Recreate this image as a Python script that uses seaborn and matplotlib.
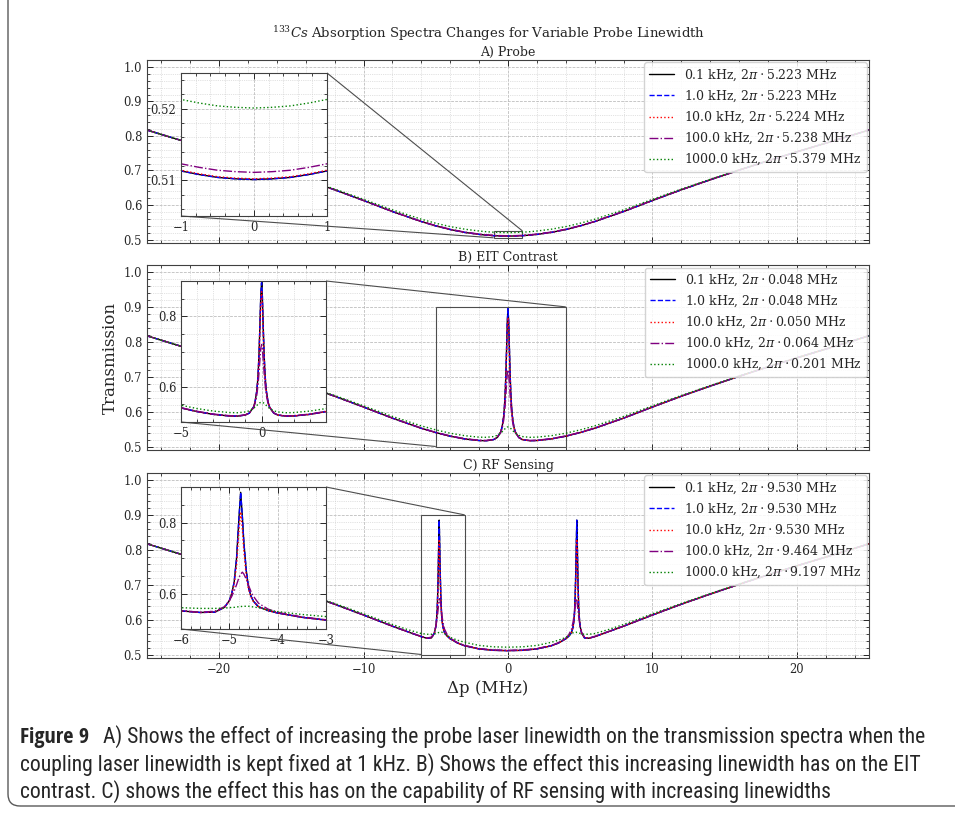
import matplotlib
matplotlib.use("Agg")
import matplotlib.pyplot as plt
import matplotlib.transforms as mtrans
from matplotlib import font_manager as fm
from matplotlib.font_manager import FontProperties
from matplotlib.patches import FancyBboxPatch
from mpl_toolkits.axes_grid1.inset_locator import mark_inset
import seaborn as sns

# ---------------- data ----------------
xa = [-25, -22, -20, -18, -16, -14, -12, -10, -8, -6, -5, -4, -3, -2, -1.5, -1, -0.75, -0.5, -0.25, 0,
      0.25, 0.5, 0.75, 1, 1.5, 2, 3, 4, 5, 6, 8, 10, 12, 14, 16, 18, 20, 22, 25]
a_black = [0.8170, 0.7790, 0.7540, 0.7280, 0.7010, 0.6730, 0.6440, 0.6130, 0.5810, 0.5520, 0.5395, 0.5290,
           0.5207, 0.5149, 0.5128, 0.5113, 0.5108, 0.5104, 0.5102, 0.5101,
           0.5102, 0.5104, 0.5108, 0.5113, 0.5128, 0.5149, 0.5207, 0.5290, 0.5395, 0.5520, 0.5810, 0.6130,
           0.6440, 0.6730, 0.7010, 0.7280, 0.7540, 0.7790, 0.8170]
a_blue = [0.8170, 0.7790, 0.7540, 0.7280, 0.7010, 0.6730, 0.6440, 0.6130, 0.5810, 0.5520, 0.5395, 0.5290,
          0.5207, 0.5149, 0.5128, 0.5113, 0.5108, 0.5104, 0.5102, 0.5101,
          0.5102, 0.5104, 0.5108, 0.5113, 0.5128, 0.5149, 0.5207, 0.5290, 0.5395, 0.5520, 0.5810, 0.6130,
          0.6440, 0.6730, 0.7010, 0.7280, 0.7540, 0.7790, 0.8170]
a_red = [0.8170, 0.7790, 0.7540, 0.7280, 0.7010, 0.6730, 0.6440, 0.6131, 0.5811, 0.5521, 0.5396, 0.5291,
         0.5208, 0.5150, 0.5129, 0.5114, 0.5109, 0.5105, 0.5103, 0.5102,
         0.5103, 0.5105, 0.5109, 0.5114, 0.5129, 0.5150, 0.5208, 0.5291, 0.5396, 0.5521, 0.5811, 0.6131,
         0.6440, 0.6730, 0.7010, 0.7280, 0.7540, 0.7790, 0.8170]
a_purple = [0.8171, 0.7791, 0.7541, 0.7281, 0.7011, 0.6732, 0.6443, 0.6134, 0.5815, 0.5527, 0.5403, 0.5299,
            0.5216, 0.5159, 0.5138, 0.5123, 0.5118, 0.5114, 0.5112, 0.5111,
            0.5112, 0.5114, 0.5118, 0.5123, 0.5138, 0.5159, 0.5216, 0.5299, 0.5403, 0.5527, 0.5815, 0.6134,
            0.6443, 0.6732, 0.7011, 0.7281, 0.7541, 0.7791, 0.8171]
a_green = [0.8171, 0.7792, 0.7543, 0.7285, 0.7019, 0.6744, 0.6462, 0.6165, 0.5860, 0.5588, 0.5472, 0.5375,
           0.5300, 0.5247, 0.5227, 0.5213, 0.5208, 0.5204, 0.5202, 0.5201,
           0.5202, 0.5204, 0.5208, 0.5213, 0.5227, 0.5247, 0.5300, 0.5375, 0.5472, 0.5588, 0.5860, 0.6165,
           0.6462, 0.6744, 0.7019, 0.7285, 0.7543, 0.7792, 0.8171]

xb = [-25, -22, -20, -18, -16, -14, -12, -10, -8, -6, -5, -4, -3, -2, -1.5, -1, -0.75, -0.5, -0.4, -0.3,
      -0.25, -0.2, -0.15, -0.1, -0.05, 0, 0.05, 0.1, 0.15, 0.2, 0.25, 0.3, 0.4, 0.5, 0.75, 1, 1.5, 2, 3, 4,
      5, 6, 8, 10, 12, 14, 16, 18, 20, 22, 25]
b_black = [0.817, 0.779, 0.754, 0.728, 0.701, 0.673, 0.644, 0.613, 0.5811, 0.5522, 0.5399, 0.5295, 0.5217,
           0.5171, 0.5166, 0.5198, 0.5256, 0.5422, 0.5578, 0.5873, 0.6121, 0.6489, 0.7027, 0.7768, 0.8566,
           0.895,
           0.8566, 0.7768, 0.7027, 0.6489, 0.6121, 0.5873, 0.5578, 0.5422, 0.5256, 0.5198, 0.5166, 0.5171,
           0.5217, 0.5295, 0.5399, 0.5522, 0.5811, 0.613, 0.644, 0.673, 0.701, 0.728, 0.754, 0.779, 0.817]
b_blue = [0.817, 0.779, 0.754, 0.728, 0.701, 0.673, 0.644, 0.613, 0.5811, 0.5522, 0.5399, 0.5295, 0.5217,
          0.5171, 0.5166, 0.5198, 0.5256, 0.5422, 0.5578, 0.5873, 0.6121, 0.6489, 0.7027, 0.7768, 0.8566,
          0.895,
          0.8566, 0.7768, 0.7027, 0.6489, 0.6121, 0.5873, 0.5578, 0.5422, 0.5256, 0.5198, 0.5166, 0.5171,
          0.5217, 0.5295, 0.5399, 0.5522, 0.5811, 0.613, 0.644, 0.673, 0.701, 0.728, 0.754, 0.779, 0.817]
b_red = [0.817, 0.779, 0.754, 0.728, 0.701, 0.673, 0.644, 0.613, 0.5811, 0.5522, 0.5399, 0.5295, 0.5217,
         0.5171, 0.5166, 0.520, 0.526, 0.542, 0.557, 0.586, 0.610, 0.645, 0.696, 0.764, 0.836,
         0.870,
         0.836, 0.764, 0.696, 0.645, 0.610, 0.586, 0.557, 0.542, 0.526, 0.520, 0.5166, 0.5171,
         0.5217, 0.5295, 0.5399, 0.5522, 0.5811, 0.613, 0.644, 0.673, 0.701, 0.728, 0.754, 0.779, 0.817]
b_purple = [0.8171, 0.7791, 0.7541, 0.7281, 0.7011, 0.6732, 0.6443, 0.6134, 0.5816, 0.5529, 0.5406, 0.5304,
            0.5225, 0.518, 0.5175, 0.5203, 0.526, 0.540, 0.553, 0.575, 0.593, 0.616, 0.645, 0.678, 0.708,
            0.720,
            0.708, 0.678, 0.645, 0.616, 0.593, 0.575, 0.553, 0.540, 0.526, 0.5203, 0.5175, 0.518,
            0.5225, 0.5304, 0.5406, 0.5529, 0.5816, 0.6134, 0.6443, 0.6732, 0.7011, 0.7281, 0.7541, 0.7791, 0.8171]
b_green = [0.8171, 0.7792, 0.7543, 0.7285, 0.7019, 0.6744, 0.6462, 0.6165, 0.5861, 0.5590, 0.5476, 0.5381,
           0.5310, 0.5268, 0.5263, 0.5285, 0.5319, 0.5384, 0.5424, 0.5467, 0.5490, 0.5512, 0.5532, 0.5547, 0.5557,
           0.556,
           0.5557, 0.5547, 0.5532, 0.5512, 0.5490, 0.5467, 0.5424, 0.5384, 0.5319, 0.5285, 0.5263, 0.5268,
           0.5310, 0.5381, 0.5476, 0.5590, 0.5861, 0.6165, 0.6462, 0.6744, 0.7019, 0.7285, 0.7543, 0.7792, 0.8171]

xc = [-25, -22, -20, -18, -16, -14, -12, -10, -8, -7, -6, -5.6, -5.3, -5.1, -5.0, -4.95, -4.9, -4.85, -4.8,
      -4.765, -4.73, -4.7, -4.65, -4.6, -4.55, -4.5, -4.4, -4.2, -4.0, -3.5, -3, -2, -1, 0,
      1, 2, 3, 3.5, 4.0, 4.2, 4.4, 4.5, 4.55, 4.6, 4.65, 4.7, 4.73, 4.765, 4.8, 4.85, 4.9, 4.95, 5.0, 5.1,
      5.3, 5.6, 6, 7, 8, 10, 12, 14, 16, 18, 20, 22, 25]
c_black = [0.817, 0.779, 0.754, 0.728, 0.701, 0.673, 0.644, 0.613, 0.581, 0.566, 0.551, 0.5465, 0.5475,
           0.561, 0.580, 0.600, 0.632, 0.700, 0.815, 0.885, 0.815, 0.745, 0.665, 0.615, 0.592, 0.578, 0.563,
           0.552, 0.545, 0.533, 0.525, 0.516, 0.512, 0.511,
           0.512, 0.516, 0.525, 0.533, 0.545, 0.552, 0.563, 0.578, 0.592, 0.615, 0.665, 0.745, 0.815, 0.885,
           0.815, 0.700, 0.632, 0.600, 0.580, 0.561, 0.5475, 0.5465, 0.551, 0.566, 0.581, 0.613, 0.644, 0.673,
           0.701, 0.728, 0.754, 0.779, 0.817]
c_blue = [0.817, 0.779, 0.754, 0.728, 0.701, 0.673, 0.644, 0.613, 0.581, 0.566, 0.551, 0.5465, 0.5475,
          0.561, 0.580, 0.600, 0.632, 0.700, 0.815, 0.885, 0.815, 0.745, 0.665, 0.615, 0.592, 0.578, 0.563,
          0.552, 0.545, 0.533, 0.525, 0.516, 0.512, 0.511,
          0.512, 0.516, 0.525, 0.533, 0.545, 0.552, 0.563, 0.578, 0.592, 0.615, 0.665, 0.745, 0.815, 0.885,
          0.815, 0.700, 0.632, 0.600, 0.580, 0.561, 0.5475, 0.5465, 0.551, 0.566, 0.581, 0.613, 0.644, 0.673,
          0.701, 0.728, 0.754, 0.779, 0.817]
c_red = [0.817, 0.779, 0.754, 0.728, 0.701, 0.673, 0.644, 0.613, 0.581, 0.566, 0.551, 0.5465, 0.548,
         0.561, 0.579, 0.597, 0.625, 0.680, 0.780, 0.830, 0.780, 0.720, 0.650, 0.610, 0.590, 0.577, 0.563,
         0.552, 0.545, 0.533, 0.525, 0.516, 0.512, 0.511,
         0.512, 0.516, 0.525, 0.533, 0.545, 0.552, 0.563, 0.577, 0.590, 0.610, 0.650, 0.720, 0.780, 0.830,
         0.780, 0.680, 0.625, 0.597, 0.579, 0.561, 0.548, 0.5465, 0.551, 0.566, 0.581, 0.613, 0.644, 0.673,
         0.701, 0.728, 0.754, 0.779, 0.817]
c_purple = [0.8171, 0.7791, 0.7541, 0.7281, 0.7011, 0.6732, 0.6443, 0.6134, 0.5815, 0.5665, 0.552, 0.547,
            0.550, 0.563, 0.580, 0.592, 0.607, 0.625, 0.645, 0.655, 0.660, 0.655, 0.640, 0.622, 0.605, 0.592,
            0.573, 0.556, 0.547, 0.534, 0.526, 0.517, 0.513, 0.512,
            0.513, 0.517, 0.526, 0.534, 0.547, 0.556, 0.573, 0.592, 0.605, 0.622, 0.640, 0.655, 0.660, 0.655,
            0.645, 0.625, 0.607, 0.592, 0.580, 0.563, 0.550, 0.547, 0.552, 0.5665, 0.5815, 0.6134, 0.6443,
            0.6732, 0.7011, 0.7281, 0.7541, 0.7791, 0.8171]
c_green = [0.8171, 0.7792, 0.7543, 0.7285, 0.7019, 0.6744, 0.6462, 0.6165, 0.586, 0.572, 0.560, 0.558,
           0.558, 0.559, 0.560, 0.561, 0.561, 0.562, 0.563, 0.563, 0.564, 0.564, 0.564, 0.564, 0.563, 0.562,
           0.560, 0.554, 0.549, 0.541, 0.535, 0.526, 0.522, 0.521,
           0.522, 0.526, 0.535, 0.541, 0.549, 0.554, 0.560, 0.562, 0.563, 0.564, 0.564, 0.564, 0.564, 0.563,
           0.563, 0.562, 0.561, 0.561, 0.560, 0.559, 0.558, 0.558, 0.560, 0.572, 0.586, 0.6165, 0.6462, 0.6744,
           0.7019, 0.7285, 0.7543, 0.7792, 0.8171]

labels_a = ["0.1 kHz, $2\\pi\\cdot5.223$ MHz", "1.0 kHz, $2\\pi\\cdot5.223$ MHz",
            "10.0 kHz, $2\\pi\\cdot5.224$ MHz", "100.0 kHz, $2\\pi\\cdot5.238$ MHz",
            "1000.0 kHz, $2\\pi\\cdot5.379$ MHz"]
labels_b = ["0.1 kHz, $2\\pi\\cdot0.048$ MHz", "1.0 kHz, $2\\pi\\cdot0.048$ MHz",
            "10.0 kHz, $2\\pi\\cdot0.050$ MHz", "100.0 kHz, $2\\pi\\cdot0.064$ MHz",
            "1000.0 kHz, $2\\pi\\cdot0.201$ MHz"]
labels_c = ["0.1 kHz, $2\\pi\\cdot9.530$ MHz", "1.0 kHz, $2\\pi\\cdot9.530$ MHz",
            "10.0 kHz, $2\\pi\\cdot9.530$ MHz", "100.0 kHz, $2\\pi\\cdot9.464$ MHz",
            "1000.0 kHz, $2\\pi\\cdot9.197$ MHz"]
panel_titles = ["A) Probe", "B) EIT Contrast", "C) RF Sensing"]
suptitle = "$^{133}Cs$ Absorption Spectra Changes for Variable Probe Linewidth"
xlabel = "\u0394p (MHz)"
ylabel = "Transmission"
caption_bold = "Figure 9"
caption_lines = ["A) Shows the effect of increasing the probe laser linewidth on the transmission spectra when the",
                 "coupling laser linewidth is kept fixed at 1 kHz. B) Shows the effect this increasing linewidth has on the EIT",
                 "contrast. C) shows the effect this has on the capability of RF sensing with increasing linewidths"]

# ---------------- style ----------------
sns.set_style("ticks")
plt.rcParams.update({
    "font.family": ["DejaVu Serif"],
    "mathtext.fontset": "dejavuserif",
    "xtick.direction": "in", "ytick.direction": "in",
    "xtick.top": True, "ytick.right": True,
    "xtick.minor.visible": True, "ytick.minor.visible": True,
    "xtick.major.size": 4, "ytick.major.size": 4,
    "xtick.minor.size": 2, "ytick.minor.size": 2,
    "xtick.major.width": 0.7, "ytick.major.width": 0.7,
    "xtick.minor.width": 0.6, "ytick.minor.width": 0.6,
    "xtick.color": "0.15", "ytick.color": "0.15",
    "axes.edgecolor": "0.25", "axes.linewidth": 0.8,
    "xtick.labelsize": 8.3, "ytick.labelsize": 8.3,
})

W, H = 955, 813
fig = plt.figure(figsize=(W / 100, H / 100), dpi=100)

colors = ["black", "blue", "red", "purple", "green"]
styles = ["-", "--", ":", "-.", ":"]

panels = [
    (xa, [a_black, a_blue, a_red, a_purple, a_green], labels_a, 60, 243, (-1, 1), (0.505, 0.525), [-1, 0, 1], [0.51, 0.52]),
    (xb, [b_black, b_blue, b_red, b_purple, b_green], labels_b, 265, 450, (-5, 4), (0.5, 0.9), [-5, 0], [0.6, 0.8]),
    (xc, [c_black, c_blue, c_red, c_purple, c_green], labels_c, 473, 658, (-6, -3), (0.5, 0.9), [-6, -5, -4, -3], [0.6, 0.8]),
]
ax_left, ax_right = 147, 869
inset_px = [(181, 327, 73, 216), (181, 326, 281, 422), (181, 326, 487, 629)]


def style_grid(a):
    a.grid(True, which="major", linestyle="--", linewidth=0.55, color="0.72")
    a.grid(True, which="minor", linestyle=":", linewidth=0.5, color="0.78")
    a.set_axisbelow(True)


for i, (x, ys, labels, top, bot, ixl, iyl, ixt, iyt) in enumerate(panels):
    ax = fig.add_axes([ax_left / W, (H - bot) / H, (ax_right - ax_left) / W, (bot - top) / H])
    for y, c, ls, lab in zip(ys, colors, styles, labels):
        sns.lineplot(x=x, y=y, ax=ax, color=c, linestyle=ls, linewidth=1.0, label=lab,
                     sort=False, errorbar=None)
    ax.set_xlim(-25, 25)
    ax.set_ylim(0.49, 1.02)
    ax.set_xticks([-20, -10, 0, 10, 20])
    ax.set_yticks([0.5, 0.6, 0.7, 0.8, 0.9, 1.0])
    if i < 2:
        ax.tick_params(axis="x", which="both", labelbottom=False)
    style_grid(ax)
    ax.set_xlabel("")
    ax.set_ylabel("")
    ax.set_title(panel_titles[i], fontsize=9, pad=3)
    ax.legend(loc="upper right", fontsize=9, borderaxespad=0.2, framealpha=0.85,
              edgecolor="0.8", handlelength=2.0, labelspacing=0.45)

    x0, x1, y0, y1 = inset_px[i]
    ah = bot - top
    axins = ax.inset_axes([(x0 - ax_left) / (ax_right - ax_left), (bot - y1) / ah,
                           (x1 - x0) / (ax_right - ax_left), (y1 - y0) / ah])
    for y, c, ls in zip(ys, colors, styles):
        sns.lineplot(x=x, y=y, ax=axins, color=c, linestyle=ls, linewidth=1.0, legend=False,
                     sort=False, errorbar=None)
    axins.set_xlim(*ixl)
    axins.set_ylim(*iyl)
    axins.set_xlabel("")
    axins.set_ylabel("")
    axins.set_xticks(ixt)
    axins.set_yticks(iyt)
    style_grid(axins)
    mark_inset(ax, axins, loc1=1, loc2=3, fc="none", ec="0.3", lw=0.8)

fig.suptitle(suptitle, x=0.512, y=(H - 24) / H, fontsize=9.5, va="top")
fig.text(488 / W, (H - 688) / H, xlabel, ha="center", va="center", fontsize=12)
fig.text(110 / W, (H - 358) / H, ylabel, ha="center", va="center", rotation=90, fontsize=12)


# ---------------- caption (narrow sans if one is installed) ----------------
def narrow_font(bold):
    prefs = ["Liberation Sans Narrow", "Open Sans", "Noto Sans", "Roboto", "DejaVu Sans", "Lato", "Inter"]
    best = None
    for f in fm.fontManager.ttflist:
        st = str(f.stretch).lower()
        nm = f.name
        narrow = ("condensed" in st and "semi" not in st and "extra" not in st and "ultra" not in st) \
            or "Narrow" in nm or "Condensed" in nm or "condensed" in f.fname.lower() and "semi" not in f.fname.lower() \
            and "extra" not in f.fname.lower()
        if not narrow or f.style != "normal":
            continue
        w = f.weight if isinstance(f.weight, int) else {"bold": 700, "normal": 400, "regular": 400}.get(str(f.weight).lower(), 400)
        if bold and w < 600:
            continue
        if not bold and w != 400:
            continue
        fam = next((k for k, p in enumerate(prefs) if nm.startswith(p)), 99)
        if fam == 99:
            continue
        score = (fam, abs(w - (700 if bold else 400)))
        if best is None or score < best[0]:
            best = (score, f.fname)
    if best is None:
        return FontProperties(family="Liberation Sans", weight="bold" if bold else "normal")
    return FontProperties(fname=best[1])


fp_reg = narrow_font(False)
fp_bold = narrow_font(True)

line_y = [737, 765, 792]
t_bold = fig.text(20 / W, (H - line_y[0]) / H, caption_bold, ha="left", va="center", fontproperties=fp_bold)
t_bold.set_fontsize(15)
cap_texts = [fig.text(142 / W, (H - line_y[0]) / H, caption_lines[0], ha="left", va="center",
                      fontproperties=fp_reg)]
for ly, txt in zip(line_y[1:], caption_lines[1:]):
    cap_texts.append(fig.text(20 / W, (H - ly) / H, txt, ha="left", va="center", fontproperties=fp_reg))
for t in cap_texts:
    t.set_fontsize(15)

# fit caption width to the reference line length (line 2 spans x = 20 .. 925 px)
fig.canvas.draw()
r = fig.canvas.get_renderer()
w2 = cap_texts[1].get_window_extent(r).width
fs = 15 * 905 / w2
for t in cap_texts:
    t.set_fontsize(fs)
t_bold.set_fontsize(fs * 1.02)
fig.canvas.draw()
bb = t_bold.get_window_extent(r)
cap_texts[0].set_x((bb.x1 + 0.9 * fs) / W)

# rounded frame
frame = FancyBboxPatch((8, 7), 1000, 820, boxstyle="round,pad=0,rounding_size=12",
                       transform=mtrans.IdentityTransform(), fill=False, ec="0.35", lw=1.0)
fig.patches.append(frame)

fig.savefig("out.png", dpi=100)
